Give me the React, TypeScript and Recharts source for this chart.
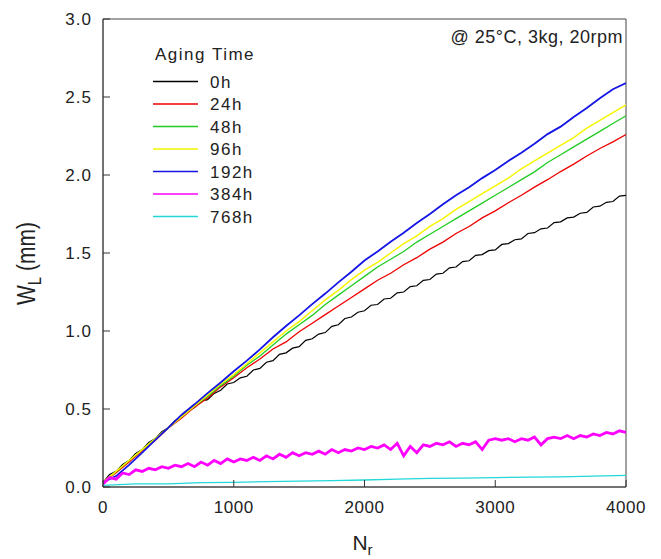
import React from "react";
import { LineChart, Line, XAxis, YAxis, ReferenceArea, Legend } from "recharts";

const FONT = '"Liberation Sans", Arial, sans-serif';

const xTicks = [0, 1000, 2000, 3000, 4000];
const yTicks = [0, 0.5, 1.0, 1.5, 2.0, 2.5, 3.0];

// wear length W_L (mm) sampled every 100 cycles
const w24h = [0.03, 0.092, 0.16, 0.232, 0.30, 0.378, 0.44, 0.512, 0.57, 0.642, 0.70, 0.765, 0.82, 0.885, 0.93, 0.995, 1.05, 1.105, 1.16, 1.215, 1.27, 1.325, 1.37, 1.425, 1.47, 1.525, 1.57, 1.625, 1.67, 1.725, 1.77, 1.822, 1.87, 1.922, 1.97, 2.022, 2.07, 2.122, 2.17, 2.212, 2.26];
const w48h = [0.03, 0.10, 0.17, 0.24, 0.31, 0.38, 0.45, 0.52, 0.58, 0.65, 0.71, 0.78, 0.84, 0.91, 0.98, 1.04, 1.10, 1.17, 1.23, 1.29, 1.35, 1.41, 1.46, 1.51, 1.57, 1.62, 1.67, 1.72, 1.77, 1.82, 1.87, 1.92, 1.97, 2.02, 2.08, 2.13, 2.18, 2.23, 2.28, 2.33, 2.38];
const w96h = [0.03, 0.10, 0.17, 0.24, 0.31, 0.38, 0.45, 0.52, 0.59, 0.66, 0.72, 0.79, 0.86, 0.93, 1.00, 1.06, 1.13, 1.20, 1.26, 1.33, 1.39, 1.44, 1.50, 1.56, 1.61, 1.67, 1.72, 1.78, 1.83, 1.88, 1.93, 1.98, 2.04, 2.09, 2.14, 2.19, 2.24, 2.30, 2.35, 2.40, 2.45];
const w192h = [0.03, 0.07, 0.142, 0.22, 0.302, 0.38, 0.462, 0.53, 0.602, 0.67, 0.742, 0.81, 0.882, 0.96, 1.032, 1.10, 1.172, 1.24, 1.312, 1.38, 1.452, 1.51, 1.572, 1.63, 1.692, 1.75, 1.812, 1.87, 1.922, 1.98, 2.032, 2.09, 2.142, 2.20, 2.262, 2.31, 2.372, 2.43, 2.492, 2.55, 2.59];
// sampled every 50 cycles
const w0h = [0.03, 0.08, 0.10, 0.145, 0.17, 0.215, 0.24, 0.285, 0.31, 0.355, 0.38, 0.425, 0.45, 0.49, 0.51, 0.55, 0.56, 0.60, 0.62, 0.66, 0.67, 0.70, 0.71, 0.75, 0.76, 0.80, 0.81, 0.85, 0.86, 0.89, 0.90, 0.94, 0.95, 0.98, 0.99, 1.03, 1.04, 1.08, 1.09, 1.12, 1.13, 1.165, 1.17, 1.205, 1.21, 1.245, 1.25, 1.285, 1.29, 1.325, 1.33, 1.365, 1.37, 1.405, 1.41, 1.445, 1.45, 1.485, 1.49, 1.515, 1.52, 1.555, 1.56, 1.585, 1.59, 1.625, 1.63, 1.655, 1.66, 1.695, 1.70, 1.725, 1.73, 1.755, 1.76, 1.795, 1.80, 1.825, 1.83, 1.865, 1.87];
const w384h = [0.02, 0.06, 0.05, 0.09, 0.08, 0.11, 0.10, 0.12, 0.11, 0.13, 0.12, 0.14, 0.13, 0.15, 0.13, 0.16, 0.14, 0.17, 0.15, 0.18, 0.16, 0.18, 0.17, 0.19, 0.17, 0.20, 0.18, 0.21, 0.19, 0.22, 0.20, 0.22, 0.21, 0.23, 0.21, 0.24, 0.22, 0.24, 0.23, 0.25, 0.24, 0.26, 0.25, 0.27, 0.24, 0.28, 0.20, 0.26, 0.22, 0.27, 0.26, 0.28, 0.27, 0.29, 0.26, 0.28, 0.27, 0.29, 0.24, 0.30, 0.31, 0.30, 0.31, 0.29, 0.31, 0.30, 0.32, 0.27, 0.31, 0.32, 0.31, 0.33, 0.31, 0.33, 0.32, 0.34, 0.33, 0.35, 0.34, 0.36, 0.35];
// sampled every 250 cycles
const w768h = [0.01, 0.02, 0.02, 0.028, 0.03, 0.034, 0.038, 0.041, 0.045, 0.05, 0.055, 0.057, 0.06, 0.063, 0.065, 0.07, 0.075];

const toPoints = (vals: number[], step: number) => vals.map((w, i) => ({ n: i * step, w }));

const series = [
  { name: "0h", color: "#000000", data: toPoints(w0h, 50), width: 1.2 },
  { name: "24h", color: "#ee0000", data: toPoints(w24h, 100), width: 1.3 },
  { name: "48h", color: "#22cc22", data: toPoints(w48h, 100), width: 1.3 },
  { name: "96h", color: "#f5f500", data: toPoints(w96h, 100), width: 1.5 },
  { name: "192h", color: "#1515e6", data: toPoints(w192h, 100), width: 1.8 },
  { name: "384h", color: "#ff00ff", data: toPoints(w384h, 50), width: 2.8 },
  { name: "768h", color: "#22d8d8", data: toPoints(w768h, 250), width: 1.3 },
];

const XTick = (props: any) => {
  const { x, y, payload } = props;
  return (
    <g>
      <line x1={x} x2={x} y1={y} y2={y - 7} stroke="#333" />
      <text x={x} y={y + 26} textAnchor="middle" fontSize={17} fill="#222" fontFamily={FONT} letterSpacing={0.5}>
        {payload.value}
      </text>
    </g>
  );
};

const YTick = (props: any) => {
  const { x, y, payload } = props;
  return (
    <g>
      <line x1={x} x2={x + 7} y1={y} y2={y} stroke="#333" />
      <text x={x - 11} y={y + 6} textAnchor="end" fontSize={17} fill="#222" fontFamily={FONT} letterSpacing={1}>
        {Number(payload.value).toFixed(1)}
      </text>
    </g>
  );
};

const XLabel = (props: any) => {
  const vb = props.viewBox || { x: 103, y: 487, width: 523, height: 72 };
  const cx = vb.x + vb.width / 2;
  return (
    <text x={cx - 2} y={vb.y + 63} textAnchor="middle" fontSize={21} fill="#222" fontFamily={FONT}>
      <tspan>N</tspan>
      <tspan dy={5} fontSize={15}>r</tspan>
    </text>
  );
};

const YLabel = () => (
  <text transform="translate(35,305) rotate(-90) scale(1,1.2)" x={0} y={0} textAnchor="start" fontSize={21} fill="#222" fontFamily={FONT}>
    <tspan>W</tspan>
    <tspan dy={5} fontSize={15}>L</tspan>
    <tspan dy={-5}> (mm)</tspan>
  </text>
);

const LegendContent = () => (
  <svg width={661} height={230} style={{ display: "block" }}>
    <text x={155} y={60} fontSize={17} fill="#222" fontFamily={FONT} letterSpacing={1.5}>
      Aging Time
    </text>
    {series.map((s, i) => {
      const cy = 81.5 + i * 22.5;
      return (
        <g key={s.name}>
          <line x1={153} x2={198} y1={cy} y2={cy} stroke={s.color} strokeWidth={1.3} />
          <text x={210} y={cy + 6} fontSize={17} fill="#222" fontFamily={FONT} letterSpacing={1.5}>
            {s.name}
          </text>
        </g>
      );
    })}
    <text x={623} y={43} textAnchor="end" fontSize={18} fill="#222" fontFamily={FONT} letterSpacing={0.5}>
      @ 25°C, 3kg, 20rpm
    </text>
  </svg>
);

export default function App() {
  return (
    <div style={{ position: "absolute", left: 0, top: 0, width: 661, height: 559, background: "#fff" }}>
      <LineChart width={661} height={559} margin={{ top: 19, right: 35, bottom: 0, left: 0 }}>
        <XAxis
          dataKey="n"
          type="number"
          domain={[0, 4000]}
          ticks={xTicks}
          height={72}
          tickSize={0}
          tickMargin={0}
          tickLine={false}
          tick={<XTick />}
          axisLine={{ stroke: "#444" }}
          allowDataOverflow
          label={<XLabel />}
        />
        <YAxis
          dataKey="w"
          type="number"
          domain={[0, 3]}
          ticks={yTicks}
          width={103}
          tickSize={0}
          tickMargin={0}
          tickLine={false}
          tick={<YTick />}
          axisLine={{ stroke: "#444" }}
          allowDataOverflow
          label={<YLabel />}
        />
        <ReferenceArea x1={0} x2={4000} y1={0} y2={3} fill="none" stroke="#444" strokeWidth={1} />
        {series.map((s) => (
          <Line
            key={s.name}
            data={s.data}
            dataKey="w"
            name={s.name}
            type="linear"
            stroke={s.color}
            strokeWidth={s.width}
            dot={false}
            activeDot={false}
            isAnimationActive={false}
          />
        ))}
        <Legend
          layout="vertical"
          align="center"
          verticalAlign="middle"
          content={<LegendContent />}
          wrapperStyle={{ position: "absolute", left: 0, top: 0, width: 661, height: 230, pointerEvents: "none" }}
        />
      </LineChart>
    </div>
  );
}
